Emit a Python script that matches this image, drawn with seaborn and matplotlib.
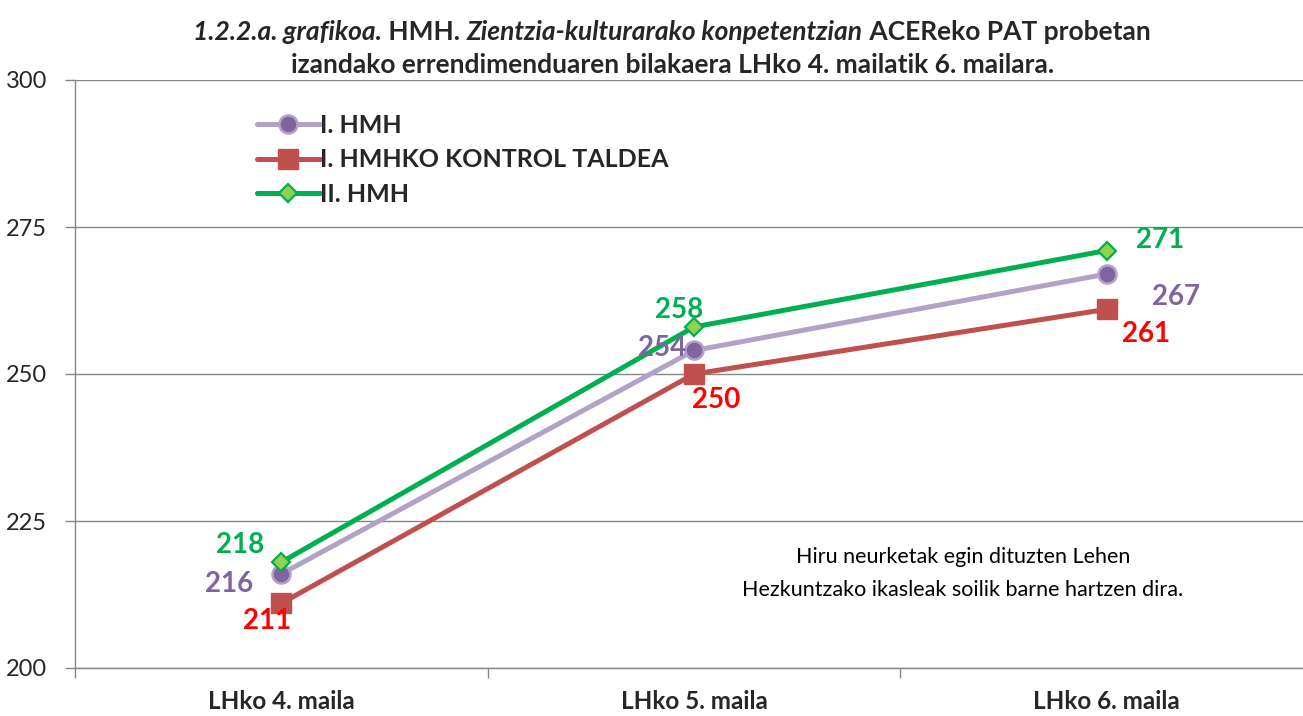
import matplotlib
matplotlib.use("Agg")
import matplotlib.pyplot as plt
import seaborn as sns
import pandas as pd
import numpy as np

categories = ["LHko 4. maila", "LHko 5. maila", "LHko 6. maila"]
series_names = ["I. HMH", "I. HMHKO KONTROL TALDEA", "II. HMH"]
hmh1 = [216, 254, 267]
kontrol = [211, 250, 261]
hmh2 = [218, 258, 271]
y_ticks = [200, 225, 250, 275, 300]

sns.set_theme(style="white")
FONT = ["Lato", "DejaVu Sans"]
plt.rcParams["font.family"] = FONT

W, H = 1303, 716
fig = plt.figure(figsize=(W / 100, H / 100), dpi=100)
ax = fig.add_axes([75 / W, 48 / H, 1238 / W, 588 / H])

styles = [
    dict(color="#b3a2c7", marker="o", mfc="#8064a2", mec="#b3a2c7", ms=13, mew=1.8),
    dict(color="#c0504d", marker="s", mfc="#c0504d", mec="#c0504d", ms=14.5, mew=1),
    dict(color="#00b050", marker="D", mfc="#92d050", mec="#00b050", ms=9.5, mew=1.6),
]
values = [hmh1, kontrol, hmh2]
xs = np.arange(len(categories))
for name, vals, st in zip(series_names, values, styles):
    df = pd.DataFrame({"x": xs, "y": vals})
    sns.lineplot(data=df, x="x", y="y", ax=ax, color=st["color"], linewidth=3.6,
                 marker=st["marker"], markerfacecolor=st["mfc"], markeredgecolor=st["mec"],
                 markersize=st["ms"], markeredgewidth=st["mew"], label=name, zorder=3)

ax.set_xlim(-0.5, 2.5)
ax.set_ylim(200, 300)
ax.set_yticks(y_ticks)
ax.set_yticklabels([str(t) for t in y_ticks], fontsize=17)
ax.set_xticks(xs)
ax.set_xticklabels(categories, fontsize=17.5, fontweight="bold")
ax.set_xticks([-0.5, 0.5, 1.5, 2.5], minor=True)
ax.tick_params(axis="x", which="major", length=0, pad=16)
ax.tick_params(axis="x", which="minor", length=7, color="#868686", width=1, direction="out", bottom=True)
ax.tick_params(axis="y", which="major", length=7, color="#868686", width=1, direction="out", left=True, pad=13)
ax.set_xlabel("")
ax.set_ylabel("")
for t in ax.get_xticklabels() + ax.get_yticklabels():
    t.set_family(FONT)
ax.grid(axis="y", color="#868686", linewidth=1)
ax.set_axisbelow(True)
for s in ["top", "right"]:
    ax.spines[s].set_visible(False)
for s in ["left", "bottom"]:
    ax.spines[s].set_color("#868686")
    ax.spines[s].set_linewidth(1)

leg = ax.legend(loc="upper left", bbox_to_anchor=(172 / 1238, 1 - 24 / 588), frameon=False,
                prop=dict(family=FONT, weight="bold", size=18), handlelength=2.5,
                handletextpad=0.0, labelspacing=0.45, borderaxespad=0)

label_colors = ["#8064a2", "#ff0000", "#00b050"]
offsets = [
    [(-52, -10), (-32, 2), (69, -23)],
    [(-14, -18), (22, -26), (39, -25)],
    [(-41, 17), (-15, 17), (53, 11)],
]
for vals, col, offs in zip(values, label_colors, offsets):
    for xi, v, (dx, dy) in zip(xs, vals, offs):
        ax.annotate(str(v), (xi, v), xytext=(dx, dy), textcoords="offset pixels",
                    ha="center", va="center", color=col, fontsize=20, fontweight="bold",
                    family=FONT, zorder=4)

fig.text(963 / W, 1 - 557 / H, "Hiru neurketak egin dituzten Lehen", ha="center", va="center",
         fontsize=15.5, family=FONT, color="#000000")
fig.text(963 / W, 1 - 590 / H, "Hezkuntzako ikasleak soilik barne hartzen dira.", ha="center",
         va="center", fontsize=15.5, family=FONT, color="#000000")

# Title with mixed styles
renderer = fig.canvas.get_renderer()
def mixed_line(parts, cx, cy):
    texts = []
    for s, style in parts:
        t = fig.text(0, cy / H, s, ha="left", va="center", fontsize=19, fontweight="bold",
                     fontstyle=style, family=FONT, transform=fig.transFigure)
        texts.append(t)
    widths = [t.get_window_extent(renderer).width for t in texts]
    total = sum(widths)
    x = cx - total / 2
    for t, w in zip(texts, widths):
        t.set_x(x / W)
        x += w

line1 = [("1.2.2.a. grafikoa.", "italic"), (" HMH. ", "normal"),
         ("Zientzia-kulturarako konpetentzian", "italic"), (" ACEReko PAT probetan", "normal")]
line2 = [("izandako errendimenduaren bilakaera LHko 4. mailatik 6. mailara.", "normal")]
mixed_line(line1, 672, H - 32)
mixed_line(line2, 673, H - 65)

fig.savefig("out.png", dpi=100, facecolor="white")
